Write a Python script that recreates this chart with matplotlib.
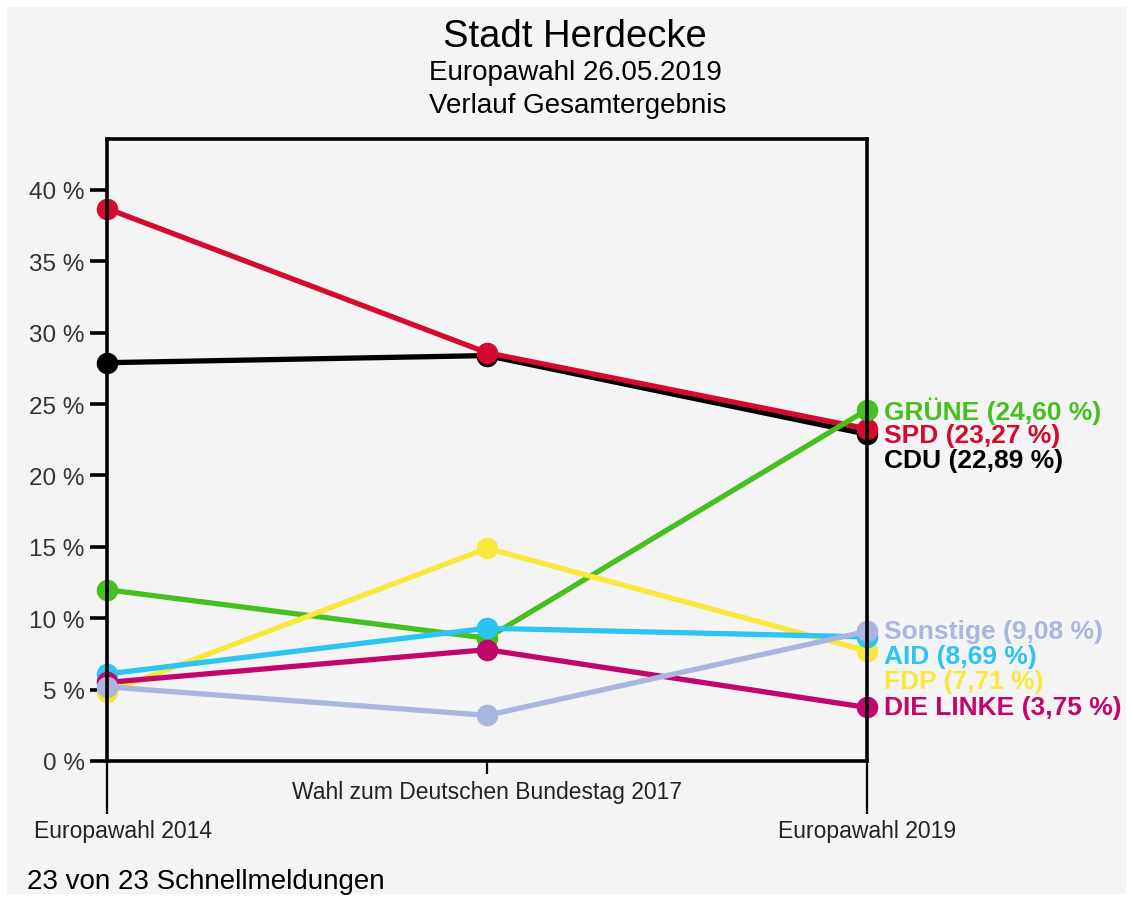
import numpy as np
import matplotlib
matplotlib.use('Agg')
import matplotlib.pyplot as plt
from matplotlib.patches import Rectangle
from matplotlib.transforms import ScaledTranslation

plt.rcParams['font.family'] = ['Liberation Sans', 'DejaVu Sans']

# Wahlen (x-Achse)
elections = ['Europawahl 2014', 'Wahl zum Deutschen Bundestag 2017', 'Europawahl 2019']

# Parteien und Ergebnisse in %
parties = ['CDU', 'SPD', 'GRÜNE', 'FDP', 'AfD', 'DIE LINKE', 'Sonstige']
label_names = ['CDU', 'SPD', 'GRÜNE', 'FDP', 'AID', 'DIE LINKE', 'Sonstige']
cdu = [27.9, 28.4, 22.89]
spd = [38.7, 28.6, 23.27]
gruene = [12.0, 8.6, 24.60]
fdp = [4.8, 14.9, 7.71]
afd = [6.1, 9.3, 8.69]
linke = [5.5, 7.8, 3.75]
sonstige = [5.2, 3.2, 9.08]
values = [cdu, spd, gruene, fdp, afd, linke, sonstige]
colors = ['#000000', '#d50a30', '#45c01e', '#f8e83c', '#2cc4f2', '#c2066c', '#a9b6e0']

bg = '#f4f4f4'
fig = plt.figure(figsize=(11.33, 9.03), dpi=100, facecolor='white')
border = Rectangle((7 / 1133, 8 / 903), 1 - 14 / 1133, 1 - 16 / 903,
                   transform=fig.transFigure, facecolor=bg, edgecolor='none', zorder=-10)
fig.add_artist(border)

ax = fig.add_axes([107 / 1133, 1 - 762 / 903, 760 / 1133, 622 / 903])
ax.set_zorder(1)
ax.set_facecolor(bg)

x = np.arange(len(elections))
for vals, c in zip(values, colors):
    ax.plot(x, vals, color=c, linewidth=3.8, marker='o', markersize=14.5,
            solid_capstyle='round', clip_on=False)

ax.set_xlim(0, 2)
ax.set_ylim(0, 43.57)
for s in ax.spines.values():
    s.set_linewidth(2.6)
    s.set_color('black')

yt = [0, 5, 10, 15, 20, 25, 30, 35, 40]
ax.set_yticks(yt)
ax.set_yticklabels([f'{v} %' for v in yt], fontsize=17.5, color='#333333')
ax.tick_params(axis='y', length=12, width=2.6, pad=4, direction='out')

ax.set_xticks([0, 2])
ax.set_xticklabels([elections[0], elections[2]], fontsize=16.5, color='#222222')
ax.set_xticks([1], minor=True)
ax.set_xticklabels([elections[1]], minor=True, fontsize=16.5, color='#222222')
ax.tick_params(axis='x', which='major', length=38, width=1.6, pad=4)
ax.tick_params(axis='x', which='minor', length=9, width=1.6, pad=5)

# linkes Label etwas nach rechts versetzt wie im Original
first = ax.get_xticklabels()[0]
first.set_transform(first.get_transform() + ScaledTranslation(0.16, 0, fig.dpi_scale_trans))

# Beschriftung rechts: von oben nach unten, mit Mindestabstand
order = sorted(range(len(parties)), key=lambda i: -values[i][-1])
gap = 1.75
prev = None
for i in order:
    y = values[i][-1]
    if prev is not None:
        y = min(y, prev - gap)
    prev = y
    ax.annotate(f'{label_names[i]} ({values[i][-1]:.2f} %)'.replace('.', ','),
                xy=(2, y), xytext=(12, 0), textcoords='offset points',
                va='center', ha='left', fontsize=19, fontweight='bold',
                color=colors[i], annotation_clip=False)

fig.text(575 / 1133, 1 - 37 / 903, 'Stadt Herdecke', ha='center', va='center', fontsize=27.5)
fig.text(575 / 1133, 1 - 73 / 903, 'Europawahl 26.05.2019', ha='center', va='center', fontsize=20)
fig.text(578 / 1133, 1 - 106 / 903, 'Verlauf Gesamtergebnis', ha='center', va='center', fontsize=20)
fig.text(27 / 1133, 1 - 882 / 903, '23 von 23 Schnellmeldungen', ha='left', va='center', fontsize=20)

fig.savefig('out.png', dpi=100, facecolor='white')
